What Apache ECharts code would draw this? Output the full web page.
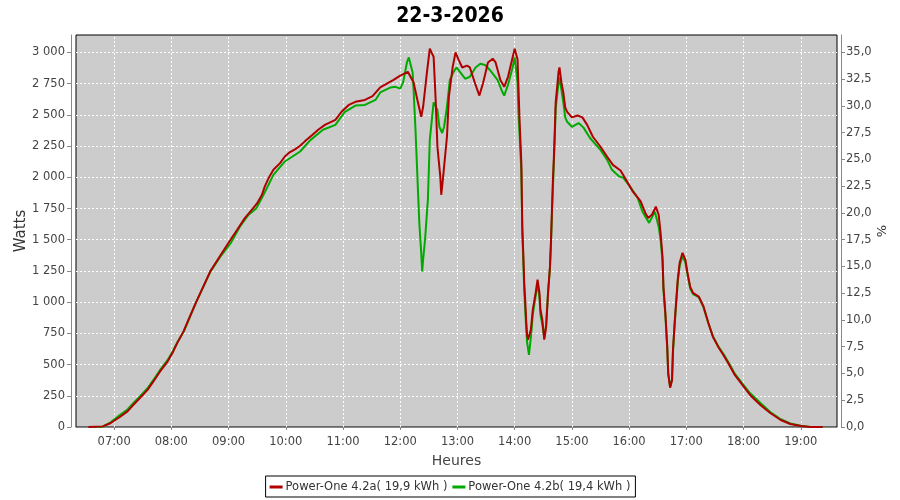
<!DOCTYPE html>
<html><head><meta charset="utf-8">
<script src="https://cdn.jsdelivr.net/npm/echarts@6/dist/echarts.min.js"></script>
<style>html,body{margin:0;padding:0;background:#fff}#c{width:900px;height:500px}</style>
</head><body><div id="c"></div>
<script>
const titleText = '22-3-2026';
const xAxisName = 'Heures';
const leftAxisName = 'Watts';
const rightAxisName = '%';
const redName = 'Power-One 4.2a( 19,9 kWh )';
const greenName = 'Power-One 4.2b( 19,4 kWh )';

const redTimes = ['06:33','06:48','06:56','07:00','07:06','07:14','07:20','07:27','07:35','07:41','07:48','07:56','08:01','08:06','08:13','08:18','08:26','08:41','08:51','09:02','09:09','09:17','09:25','09:30','09:35','09:38','09:42','09:47','09:54','09:59','10:04','10:10','10:15','10:20','10:28','10:34','10:41','10:52','10:59','11:06','11:13','11:23','11:31','11:39','11:53','12:00','12:08','12:14','12:18','12:22','12:24','12:28','12:31','12:35','12:37','12:39','12:42','12:43','12:45','12:49','12:51','12:55','12:58','13:01','13:05','13:10','13:13','13:19','13:23','13:27','13:32','13:37','13:40','13:45','13:49','13:53','13:58','14:00','14:03','14:05','14:07','14:08','14:09','14:10','14:11','14:12','14:13','14:14','14:17','14:19','14:22','14:24','14:26','14:27','14:29','14:31','14:33','14:35','14:37','14:38','14:39','14:40','14:41','14:42','14:43','14:45','14:46','14:47','14:49','14:51','14:53','14:55','15:00','15:06','15:11','15:16','15:22','15:30','15:37','15:43','15:51','15:58','16:04','16:12','16:17','16:20','16:24','16:28','16:31','16:33','16:35','16:36','16:38','16:40','16:41','16:43','16:45','16:46','16:48','16:51','16:53','16:56','16:59','17:01','17:04','17:07','17:13','17:18','17:23','17:28','17:34','17:39','17:44','17:51','17:59','18:07','18:18','18:28','18:39','18:49','19:00','19:10','19:23'];
const redWatts = [0,5,30,50,80,125,176,232,297,363,443,524,590,670,770,860,1000,1250,1370,1500,1580,1673,1745,1793,1860,1927,1994,2060,2114,2167,2200,2226,2253,2288,2341,2381,2420,2460,2530,2580,2605,2620,2650,2720,2780,2815,2845,2760,2620,2485,2565,2840,3030,2965,2645,2245,2005,1860,2005,2325,2645,2885,3000,2945,2880,2895,2880,2740,2655,2760,2920,2950,2920,2780,2725,2805,2965,3030,2945,2485,2115,1600,1395,1155,1020,860,740,700,780,940,1075,1180,1075,940,860,700,800,1075,1280,1475,1715,1955,2140,2355,2600,2760,2845,2880,2760,2680,2560,2525,2480,2495,2480,2420,2325,2245,2165,2100,2055,1965,1885,1810,1715,1675,1700,1765,1700,1555,1365,1125,915,640,430,315,375,615,860,1180,1315,1395,1340,1245,1125,1075,1045,965,835,720,635,575,510,415,335,255,175,112,56,24,8,0,0];

const greenTimes = ['06:35','06:48','06:56','07:00','07:06','07:14','07:20','07:27','07:35','07:41','07:48','07:56','08:01','08:06','08:13','08:18','08:26','08:41','08:51','09:02','09:12','09:21','09:29','09:38','09:47','09:59','10:15','10:26','10:39','10:52','11:02','11:13','11:23','11:34','11:39','11:50','11:55','12:00','12:03','12:07','12:09','12:13','12:14','12:16','12:18','12:19','12:20','12:22','12:23','12:24','12:26','12:28','12:29','12:31','12:35','12:39','12:41','12:44','12:46','12:49','12:52','12:56','12:59','13:03','13:08','13:13','13:19','13:24','13:29','13:34','13:42','13:47','13:49','13:53','13:58','14:00','14:03','14:04','14:07','14:08','14:09','14:10','14:11','14:12','14:13','14:15','14:17','14:19','14:22','14:24','14:26','14:27','14:29','14:31','14:33','14:35','14:37','14:38','14:39','14:40','14:41','14:42','14:43','14:46','14:47','14:49','14:51','14:53','14:55','15:00','15:07','15:12','15:19','15:30','15:37','15:42','15:49','15:54','16:01','16:09','16:14','16:21','16:27','16:31','16:33','16:35','16:36','16:38','16:40','16:41','16:43','16:45','16:46','16:48','16:51','16:53','16:56','16:59','17:01','17:04','17:07','17:13','17:18','17:23','17:28','17:34','17:39','17:44','17:51','17:59','18:07','18:18','18:28','18:39','18:49','19:00','19:10','19:23'];
const greenWatts = [0,3,35,60,95,140,190,245,310,375,455,535,600,675,765,855,1000,1245,1360,1470,1606,1700,1750,1880,2020,2127,2207,2300,2381,2420,2525,2575,2580,2620,2680,2720,2725,2710,2760,2920,2960,2840,2700,2380,2005,1820,1635,1395,1245,1340,1500,1715,1820,2300,2600,2540,2405,2355,2405,2565,2780,2845,2880,2840,2790,2805,2880,2910,2900,2860,2780,2685,2655,2740,2885,2960,2760,2515,2050,1550,1350,1100,950,800,680,577,720,900,1050,1150,1040,900,820,720,820,1075,1280,1450,1680,1900,2100,2300,2550,2760,2800,2700,2600,2480,2445,2405,2435,2400,2315,2220,2140,2060,2010,1995,1925,1835,1725,1635,1725,1605,1500,1330,1100,900,630,430,320,380,610,850,1160,1290,1370,1320,1230,1110,1065,1040,960,835,725,640,585,520,425,345,270,190,120,62,28,10,0,0];

const hourTicks = ['07:00','08:00','09:00','10:00','11:00','12:00','13:00','14:00','15:00','16:00','17:00','18:00','19:00'];
const leftTicks = { min: 0, max: 3140, interval: 250 };
const rightTicks = { min: 0, interval: 2.5 };
const wattsPerPercent = 3000 / 35;
const xStart = '06:20', xEnd = '19:38';

function toDate(hm) {
  const [h, m] = hm.split(':').map(Number);
  return new Date(2026, 2, 22, h, m).getTime();
}
function pairs(times, vals) { return times.map((t, i) => [toDate(t), vals[i]]); }
function pad(n) { return (n < 10 ? '0' : '') + n; }

const labelFont = "'DejaVu Sans', sans-serif";
const gridDash = { color: '#ffffff', type: [2, 2], width: 1 };
const chart = echarts.init(document.getElementById('c'), null, { renderer: 'canvas' });
chart.setOption({
  animation: false,
  backgroundColor: '#ffffff',
  title: {
    text: titleText, left: 'center', top: 1,
    textStyle: { fontFamily: "'DejaVu Sans Condensed', 'DejaVu Sans', sans-serif", fontWeight: 'bold', fontSize: 21, color: '#000' }
  },
  grid: {
    left: 76, right: 63, top: 35, bottom: 73,
    show: true, backgroundColor: '#cccccc', borderColor: '#000000', borderWidth: 1,
    outerBoundsMode: 'none', containLabel: false
  },
  legend: {
    data: [redName, greenName], left: 'center', top: 476,
    orient: 'horizontal', icon: 'rect', itemWidth: 13, itemHeight: 3, itemGap: 5,
    borderColor: '#000', borderWidth: 1, padding: [5, 5, 4, 4],
    textStyle: { fontFamily: labelFont, fontSize: 11.5, color: '#333', padding: [0, 0, 0, -2] }
  },
  xAxis: {
    type: 'time',
    min: toDate(xStart), max: toDate(xEnd),
    minInterval: 3600000, maxInterval: 3600000,
    offset: 4,
    name: xAxisName, nameLocation: 'middle', nameGap: 23, nameMoveOverlap: false,
    nameTextStyle: { fontFamily: labelFont, fontSize: 14, color: '#444' },
    axisLine: { show: true, lineStyle: { color: '#888', width: 1 } },
    axisTick: { show: true, length: 3, lineStyle: { color: '#888' } },
    axisLabel: {
      margin: 5, fontFamily: labelFont, fontSize: 11.5, color: '#444',
      showMinLabel: false, showMaxLabel: false,
      formatter: function (v) { const d = new Date(v); return pad(d.getHours()) + ':' + pad(d.getMinutes()); }
    },
    splitLine: { show: false },
    minorTick: { show: false }, minorSplitLine: { show: false }
  },
  yAxis: [{
    type: 'value', position: 'left',
    min: leftTicks.min, max: leftTicks.max, interval: leftTicks.interval,
    offset: 5,
    name: leftAxisName, nameLocation: 'middle', nameGap: 42, nameRotate: 90, nameMoveOverlap: false,
    nameTextStyle: { fontFamily: labelFont, fontSize: 15, color: '#333' },
    axisLine: { show: true, lineStyle: { color: '#888', width: 1 } },
    axisTick: { show: true, length: 4, lineStyle: { color: '#888' } },
    axisLabel: {
      margin: 6, fontFamily: labelFont, fontSize: 11.5, color: '#444', showMaxLabel: false,
      formatter: function (v) { return String(Math.round(v)).replace(/\B(?=(\d{3})+(?!\d))/g, ' '); }
    },
    splitLine: { show: true, showMaxLine: false, lineStyle: gridDash }
  }, {
    type: 'value', position: 'right',
    min: rightTicks.min, max: leftTicks.max / wattsPerPercent, interval: rightTicks.interval,
    offset: 4,
    name: rightAxisName, nameLocation: 'middle', nameGap: 35, nameRotate: 90, nameMoveOverlap: false,
    nameTextStyle: { fontFamily: labelFont, fontSize: 13, color: '#333' },
    axisLine: { show: true, lineStyle: { color: '#888', width: 1 } },
    axisTick: { show: true, length: 4, lineStyle: { color: '#888' } },
    axisLabel: {
      margin: 5, fontFamily: labelFont, fontSize: 11.5, color: '#444', showMaxLabel: false,
      formatter: function (v) { return v.toFixed(1).replace('.', ','); }
    },
    splitLine: { show: false }
  }],
  series: [{
    name: 'hourGrid', type: 'line', yAxisIndex: 0, z: 1, data: [], silent: true,
    markLine: {
      z: 1, silent: true, symbol: 'none', animation: false,
      label: { show: false }, emphasis: { disabled: true },
      lineStyle: gridDash,
      data: hourTicks.map(h => ({ xAxis: toDate(h) }))
    }
  }, {
    name: greenName, type: 'line', yAxisIndex: 0, z: 2,
    data: pairs(greenTimes, greenWatts), showSymbol: false, symbol: 'none',
    lineStyle: { color: '#00aa00', width: 2 }, itemStyle: { color: '#00aa00' }
  }, {
    name: redName, type: 'line', yAxisIndex: 0, z: 3,
    data: pairs(redTimes, redWatts), showSymbol: false, symbol: 'none',
    lineStyle: { color: '#b00000', width: 2 }, itemStyle: { color: '#b00000' }
  }]
});
</script></body></html>
